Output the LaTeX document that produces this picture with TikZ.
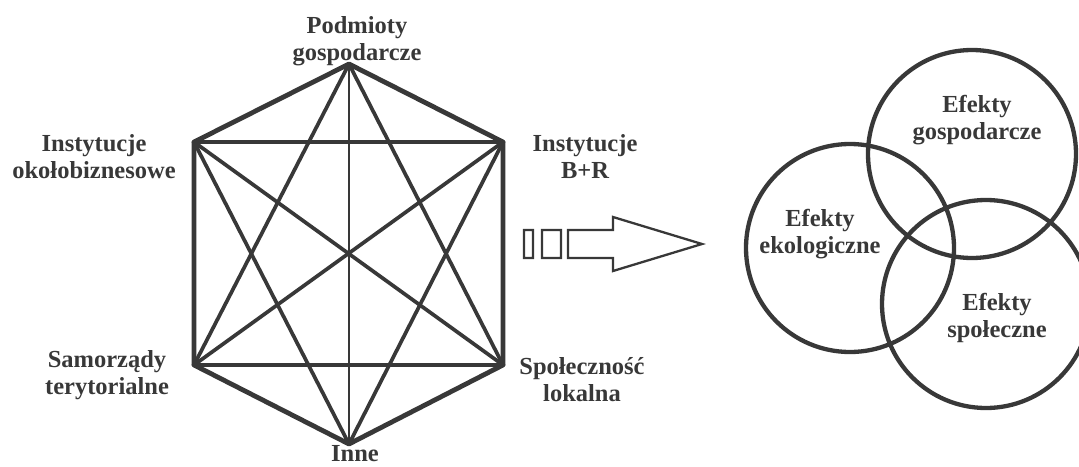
\documentclass[tikz,border=0pt]{standalone}
\usepackage{fontspec}
\setmainfont{Liberation Serif}
\definecolor{ink}{HTML}{383838}
\tikzset{
  lbl/.style={font=\bfseries\fontsize{24.5}{27}\selectfont, text=ink, align=center, inner sep=0pt},
  outer/.style={draw=ink, line width=4.8pt, line cap=round, line join=round},
  inner/.style={draw=ink, line width=3.7pt, line cap=round},
  ring/.style={draw=ink, line width=4.3pt},
}
\begin{document}
\begin{tikzpicture}[x=1pt,y=-1pt]
    \useasboundingbox (0,0) rectangle (1079,466);

    % Corners of the hexagon
    \coordinate (pg) at (349,64);
    \coordinate (io) at (194,142);
    \coordinate (ib) at (503,142);
    \coordinate (st) at (194,365);
    \coordinate (sl) at (503,365);
    \coordinate (in) at (349,444);

    % Hexagon and the two horizontal lines
    \draw[outer] (pg) -- (ib) -- (sl) -- (in) -- (st) -- (io) -- cycle;
    \draw[outer] (io) -- (ib);
    \draw[outer] (st) -- (sl);

    % Lines crossing the hexagon
    \foreach \a/\b in {pg/st, pg/sl, in/io, in/ib, io/sl, ib/st}
        \draw[inner] (\a) -- (\b);
    \draw[draw=ink, line width=2.4pt] (pg) -- (in);

    % Add labels round the hexagon
    \node[lbl] (lpg) at (357,41) {Podmioty\\gospodarcze};
    \node[lbl] (lio) at (94,157) {Instytucje\\okołobiznesowe};
    \node[lbl] (lib) at (585,157) {Instytucje\\B+R};
    \node[lbl] (lst) at (107,375) {Samorządy\\terytorialne};
    \node[lbl] (lsl) at (582,380) {Społeczność\\lokalna};
    \node[lbl] (lin) at (355,454) {Inne};

    % Block arrow
    \draw[draw=ink, line width=2.3pt, line join=miter]
        (524,230) rectangle (533,258)
        (542,230) rectangle (561,258)
        (568,230) -- (613,230) -- (613,217) -- (702,244) -- (613,271) -- (613,258) -- (568,258) -- cycle;

    % Draw circles for each kind of effect
    \draw[ring] (972,154) circle (104);
    \draw[ring] (850,248) circle (104);
    \draw[ring] (986,304) circle (104);

    % Add labels inside each circle
    \node[lbl] (eg) at (977,120) {Efekty\\gospodarcze};
    \node[lbl] (ee) at (820,234) {Efekty\\ekologiczne};
    \node[lbl] (es) at (997,318) {Efekty\\społeczne};
\end{tikzpicture}
\end{document}
